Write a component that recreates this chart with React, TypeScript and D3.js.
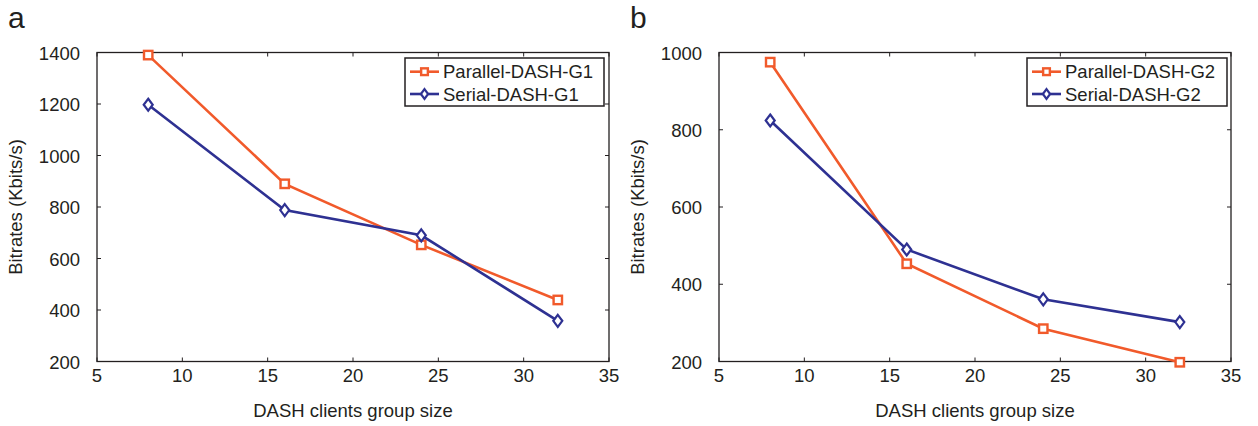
import React, { useEffect, useRef } from 'react'
import * as d3 from 'd3'

const groupSizes = [8, 16, 24, 32]
const parallelG1 = [1390, 890, 653, 439]
const serialG1 = [1197, 788, 690, 358]
const parallelG2 = [975, 453, 285, 198]
const serialG2 = [824, 490, 361, 302]
const xTicks = [5, 10, 15, 20, 25, 30, 35]
const yTicksA = [200, 400, 600, 800, 1000, 1200, 1400]
const yTicksB = [200, 400, 600, 800, 1000]

const ORANGE = '#f15a2b', BLUE = '#2e3192', INK = '#231f20'
const FONT = '"Liberation Sans", Arial, sans-serif'
const FS = 18.5

type Panel = {
  label: string, left: number, right: number, yDomain: [number, number], yTicks: number[],
  series: { name: string, values: number[], color: string, marker: 'square' | 'diamond' }[],
  legendX: number, legendW: number
}

export default function App() {
  const svgRef = useRef<SVGSVGElement>(null)

  useEffect(() => {
    const width = 1258, height = 426
    const svg = d3.select(svgRef.current).attr('width', width).attr('height', height)
    svg.selectAll('*').remove()
    const top = 52.5, bottom = 361.5

    const panels: Panel[] = [
      { label: 'a', left: 97, right: 609, yDomain: [200, 1400], yTicks: yTicksA,
        series: [
          { name: 'Parallel-DASH-G1', values: parallelG1, color: ORANGE, marker: 'square' },
          { name: 'Serial-DASH-G1', values: serialG1, color: BLUE, marker: 'diamond' }],
        legendX: 405, legendW: 199 },
      { label: 'b', left: 719, right: 1231, yDomain: [200, 1000], yTicks: yTicksB,
        series: [
          { name: 'Parallel-DASH-G2', values: parallelG2, color: ORANGE, marker: 'square' },
          { name: 'Serial-DASH-G2', values: serialG2, color: BLUE, marker: 'diamond' }],
        legendX: 1027, legendW: 200 },
    ]

    const drawMarker = (g: any, kind: string, cx: number, cy: number, color: string, s = 1) => {
      if (kind === 'square') {
        g.append('rect').attr('x', cx - 4.2 * s).attr('y', cy - 4.2 * s).attr('width', 8.4 * s).attr('height', 8.4 * s)
          .attr('fill', 'white').attr('stroke', color).attr('stroke-width', 2.4)
      } else {
        g.append('path').attr('d', `M${cx},${cy - 6 * s}L${cx + 4.5 * s},${cy}L${cx},${cy + 6 * s}L${cx - 4.5 * s},${cy}Z`)
          .attr('fill', 'white').attr('stroke', color).attr('stroke-width', 2.2)
      }
    }

    panels.forEach(p => {
      const x = d3.scaleLinear().domain([5, 35]).range([p.left, p.right])
      const y = d3.scaleLinear().domain(p.yDomain).range([bottom, top])
      const g = svg.append('g')

      // panel letter
      g.append('text').attr('x', p.left - 89).attr('y', 28).attr('font-size', 30).attr('font-family', FONT)
        .attr('fill', INK).text(p.label)

      // frame and ticks
      g.append('rect').attr('x', p.left).attr('y', top).attr('width', p.right - p.left).attr('height', bottom - top)
        .attr('fill', 'none').attr('stroke', INK).attr('stroke-width', 1.3)
      xTicks.forEach(t => {
        g.append('line').attr('x1', x(t)).attr('x2', x(t)).attr('y1', bottom).attr('y2', bottom - 4).attr('stroke', INK)
        g.append('line').attr('x1', x(t)).attr('x2', x(t)).attr('y1', top).attr('y2', top + 4).attr('stroke', INK)
        g.append('text').attr('x', x(t)).attr('y', bottom + 20).attr('text-anchor', 'middle')
          .attr('font-size', FS).attr('font-family', FONT).attr('fill', INK).text(t)
      })
      p.yTicks.forEach(t => {
        g.append('line').attr('x1', p.left).attr('x2', p.left + 4).attr('y1', y(t)).attr('y2', y(t)).attr('stroke', INK)
        g.append('line').attr('x1', p.right).attr('x2', p.right - 4).attr('y1', y(t)).attr('y2', y(t)).attr('stroke', INK)
        g.append('text').attr('x', p.left - 17).attr('y', y(t) + 7).attr('text-anchor', 'end')
          .attr('font-size', FS).attr('font-family', FONT).attr('fill', INK).text(t)
      })

      // axis titles
      g.append('text').attr('x', (p.left + p.right) / 2).attr('y', 416.5).attr('text-anchor', 'middle')
        .attr('font-size', FS).attr('font-family', FONT).attr('fill', INK).text('DASH clients group size')
      g.append('text').attr('transform', `translate(${p.left - 75.5},${(top + bottom) / 2}) rotate(-90)`)
        .attr('text-anchor', 'middle').attr('font-size', FS).attr('font-family', FONT).attr('fill', INK)
        .text('Bitrates (Kbits/s)')

      // series
      const line = d3.line<number>().x((_, i) => x(groupSizes[i])).y(d => y(d))
      p.series.forEach(s => {
        g.append('path').attr('d', line(s.values)).attr('fill', 'none').attr('stroke', s.color).attr('stroke-width', 2.6)
        s.values.forEach((v, i) => drawMarker(g, s.marker, x(groupSizes[i]), y(v), s.color))
      })

      // legend
      const lg = g.append('g').attr('transform', `translate(${p.legendX},58)`)
      lg.append('rect').attr('width', p.legendW).attr('height', 48).attr('fill', 'white').attr('stroke', INK).attr('stroke-width', 1.5)
      p.series.forEach((s, i) => {
        const cy = 13.7 + i * 22.3
        lg.append('line').attr('x1', 5).attr('x2', 34).attr('y1', cy).attr('y2', cy).attr('stroke', s.color).attr('stroke-width', 2.6)
        drawMarker(lg, s.marker, 19.5, cy, s.color, 0.8)
        lg.append('text').attr('x', 38).attr('y', cy + 6.5).attr('font-size', FS).attr('font-family', FONT)
          .attr('fill', INK).text(s.name)
      })
    })
  }, [])

  return <svg ref={svgRef} style={{ position: 'absolute', left: 0, top: 0 }} />
}
